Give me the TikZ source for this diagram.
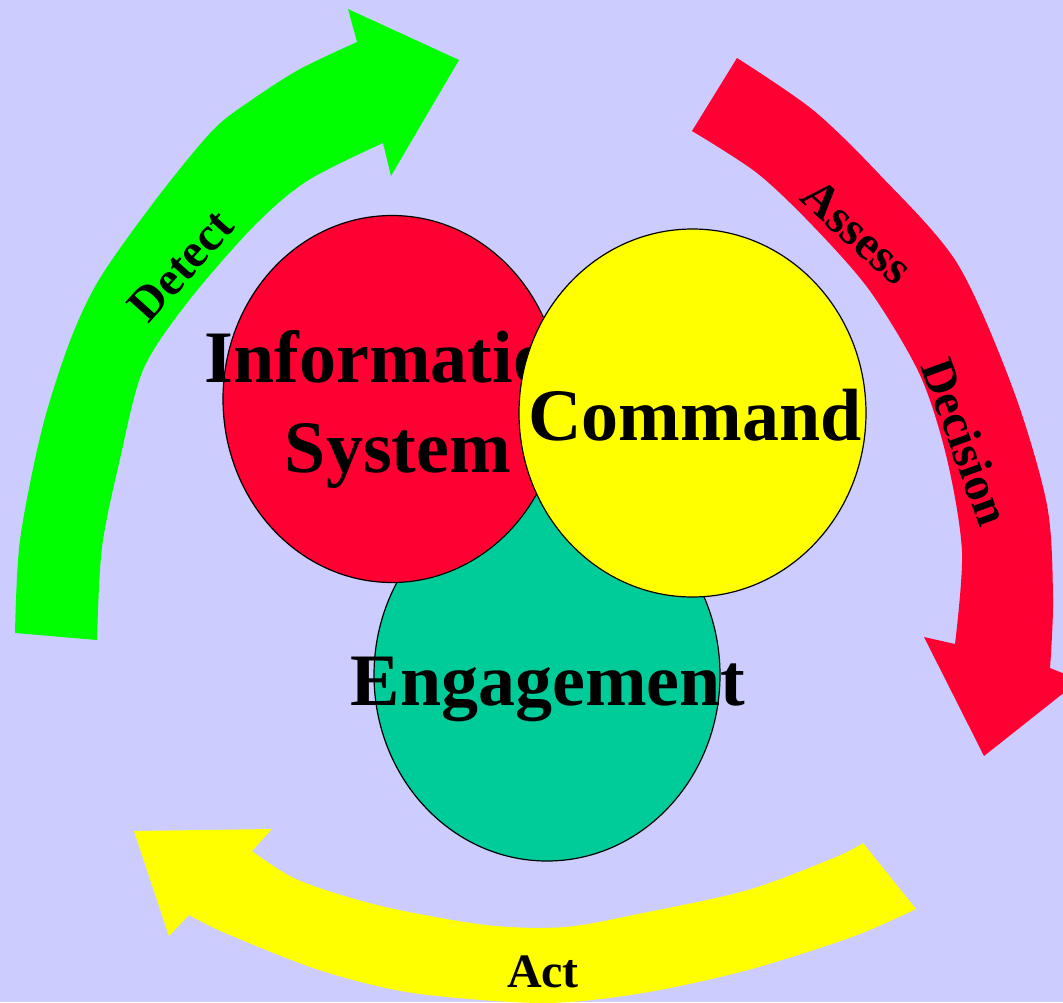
\documentclass[tikz,border=0pt]{standalone}
\usepackage{fontspec}
\setmainfont{Liberation Serif}
\usetikzlibrary{shapes.geometric}
\definecolor{bg}{HTML}{CCCCFF}
\definecolor{arrgreen}{HTML}{00FF00}
\definecolor{crimson}{HTML}{FF0033}
\definecolor{yel}{HTML}{FFFF00}
\definecolor{seagreen}{HTML}{00CC99}
\begin{document}
\begin{tikzpicture}[x=1pt,y=-1pt,
  blob/.style={ellipse, draw=black, line width=1.2pt, inner sep=0pt},
  bigtext/.style={font=\fontsize{74}{90}\selectfont\bfseries, inner sep=0pt, align=center},
  lbl/.style={font=\fontsize{48}{58}\selectfont\bfseries, inner sep=0pt}]
\useasboundingbox (0,0) rectangle (1063,1002);
\fill[bg] (0,0) rectangle (1063,1002);
\begin{scope}
\clip (0,0) rectangle (1063,1002);
% green arrow (Detect)
\fill[arrgreen] plot[smooth] coordinates {(15,633) (20,540) (42,429) (70,341) (100,278) (157,198) (213,130) (253,99) (300,69) (357,42)}
  -- (348,9) -- (459,60) -- (391,176)
  -- plot[smooth] coordinates {(383,143) (307,181) (253,227) (187,303) (143,370) (120,459) (102,547) (97,640)}
  -- cycle;
% red arrow (Assess / Decision)
\fill[crimson] plot[smooth] coordinates {(737,58) (813,110) (880,175) (957,263) (1013,389) (1047,505) (1053,599) (1050,668)}
  -- (1080,680) -- (984,756) -- (924,637)
  -- plot[smooth] coordinates {(955,644) (962,552) (947,459) (920,375) (870,291) (813,226) (757,173) (692,131)}
  -- cycle;
% yellow arrow (Act)
\fill[yel] plot[smooth] coordinates {(916,909) (852,937) (748,970) (643,993) (543,1003) (413,993) (319,970) (225,933) (189,915)}
  -- (169,936) -- (134,831) -- (272,829)
  -- plot[smooth] coordinates {(252,851) (298,880) (381,906) (486,925) (565,927) (643,913) (748,890) (836,857) (863,843)}
  -- cycle;
\end{scope}
% circles
\node[blob, fill=seagreen, minimum width=346pt, minimum height=372pt] (engage) at (547,675) {};
\node[bigtext, anchor=base] (engagetxt) at (548,705) {Engagement};
\node[blob, fill=crimson, minimum width=338pt, minimum height=367pt] (info) at (392,399) {};
\node[bigtext] (infotxt) at (398,409) {Information\\System};
\node[blob, fill=yel, minimum width=347pt, minimum height=368pt] (command) at (692.5,413) {};
\node[bigtext, anchor=base] (commandtxt) at (695,440) {Command};
% arrow labels
\node[lbl, rotate=48] (detect) at (181,266) {Detect};
\node[lbl, rotate=-42] (assess) at (857,232) {Assess};
\node[lbl, rotate=-70] (decision) at (966,442) {Decision};
\node[lbl] (act) at (543,972) {Act};
\end{tikzpicture}
\end{document}
